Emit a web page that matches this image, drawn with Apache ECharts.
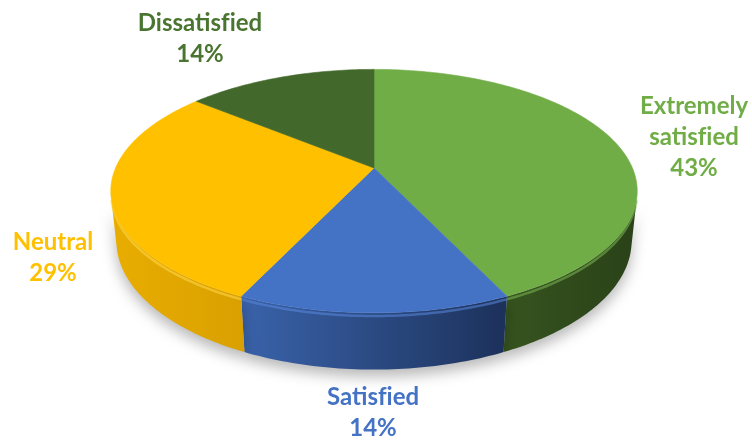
<!DOCTYPE html>
<html>
<head>
<meta charset="utf-8">
<script src="https://cdn.jsdelivr.net/npm/echarts@6/dist/echarts.min.js"></script>
<style>
  html, body { margin: 0; padding: 0; background: #ffffff; }
  #chart { width: 752px; height: 441px; }
</style>
</head>
<body>
<div id="chart"></div>
<script>
// Satisfaction survey split
const categories = ['Extremely satisfied', 'Satisfied', 'Neutral', 'Dissatisfied'];
// \u200C keeps "f" and "i" as separate glyphs
const labelNames = ['Extremely\nsatisf\u200Cied', 'Satisf\u200Cied', 'Neutral', 'Dissatisf\u200Cied'];
const shares = [43, 14, 29, 14];

// Styling
const topColors = ['#70ad47', '#4472c4', '#ffc000', '#43682b'];
const sideColors = [
  ['#36541f', '#2a4118'],
  ['#3a63ab', '#1c315a'],
  ['#e9ad00', '#d9a000'],
  ['#2f4a1e', '#24391a']
];
const rimColors = ['#7cb853', '#5a89dc', '#ffd84a', '#557c3a'];
const labelColors = ['#70ad47', '#4472c4', '#ffc000', '#4a7530'];
// label anchors (screen px) next to each slice
const labelAnchors = [[694, 137], [373, 413], [53, 258], [200, 39]];

// simple perspective camera for a tilted disc
const view = {
  cx: 374, cy: 168, f: 1212, D: 4.69,
  alpha: 27 * Math.PI / 180, thick: 0.218
};
const sa = Math.sin(view.alpha), ca = Math.cos(view.alpha);

function project(theta, r, h) {
  const X = r * Math.cos(theta), Z = r * Math.sin(theta);
  const yc = h * ca + Z * sa;
  const zc = view.D + Z * ca - h * sa;
  return [view.cx + view.f * X / zc, view.cy - view.f * yc / zc];
}

const total = shares.reduce((a, b) => a + b, 0);
const bounds = [];
{
  let cum = 0;
  shares.forEach(v => {
    const a0 = Math.PI / 2 - 2 * Math.PI * cum / total;
    cum += v;
    const a1 = Math.PI / 2 - 2 * Math.PI * cum / total;
    bounds.push([a0, a1]); // a0 > a1, clockwise
  });
}

function arc(a0, a1, r, h) {
  const pts = [];
  const n = Math.max(2, Math.ceil(Math.abs(a0 - a1) / (Math.PI / 180)));
  for (let i = 0; i <= n; i++) {
    const t = a0 + (a1 - a0) * i / n;
    pts.push(project(t, r, h));
  }
  return pts;
}

// outer wall is visible where sin(theta) < -1/(D cos alpha)
const visLimit = Math.asin(-1 / (view.D * ca));
const visHi = visLimit;
const visLo = -Math.PI - visLimit;

function renderSide(params, api) {
  const i = params.dataIndex;
  const [a0, a1] = bounds[i];
  const hi = Math.min(a0, visHi), lo = Math.max(a1, visLo);
  if (hi <= lo) return { type: 'group', children: [] };
  const topPts = arc(hi, lo, 1, 0);
  const botPts = arc(lo, hi, 1, -view.thick);
  const pts = topPts.concat(botPts);
  return {
    type: 'group',
    children: [{
      type: 'polygon',
      shape: { points: pts },
      style: {
        fill: new echarts.graphic.LinearGradient(0, 0, 1, 0, [
          { offset: 0, color: sideColors[i][0] },
          { offset: 1, color: sideColors[i][1] }
        ]),
        shadowColor: 'rgba(0,0,0,0.28)',
        shadowBlur: 14,
        shadowOffsetY: 7
      }
    }, {
      type: 'polyline',
      shape: { points: arc(hi, lo, 1, -0.012) },
      style: { stroke: rimColors[i], lineWidth: 2.5, fill: null, opacity: 0.55 }
    }]
  };
}

function renderTop(params, api) {
  const i = params.dataIndex;
  const [a0, a1] = bounds[i];
  const pts = [project(0, 0, 0)].concat(arc(a0, a1, 1, 0));
  const [lx, ly] = labelAnchors[i];
  return {
    type: 'group',
    children: [{
      type: 'polygon',
      shape: { points: pts },
      style: { fill: topColors[i], stroke: topColors[i], lineWidth: 0.6 }
    }, {
      type: 'text',
      x: lx, y: ly,
      style: {
        text: labelNames[i] + '\n' + Math.round(api.value(0) / total * 100) + '%',
        fill: labelColors[i],
        font: 'bold 24px Lato',
        align: 'center',
        verticalAlign: 'middle',
        lineHeight: 31
      }
    }]
  };
}

const chart = echarts.init(document.getElementById('chart'), null, { renderer: 'canvas' });
const seriesData = shares.map((v, i) => ({ name: categories[i], value: v }));
chart.setOption({
  animation: false,
  series: [
    { type: 'custom', coordinateSystem: 'none', renderItem: renderSide, data: seriesData, z: 1 },
    { type: 'custom', coordinateSystem: 'none', renderItem: renderTop, data: seriesData, z: 2 }
  ]
});
</script>
</body>
</html>
